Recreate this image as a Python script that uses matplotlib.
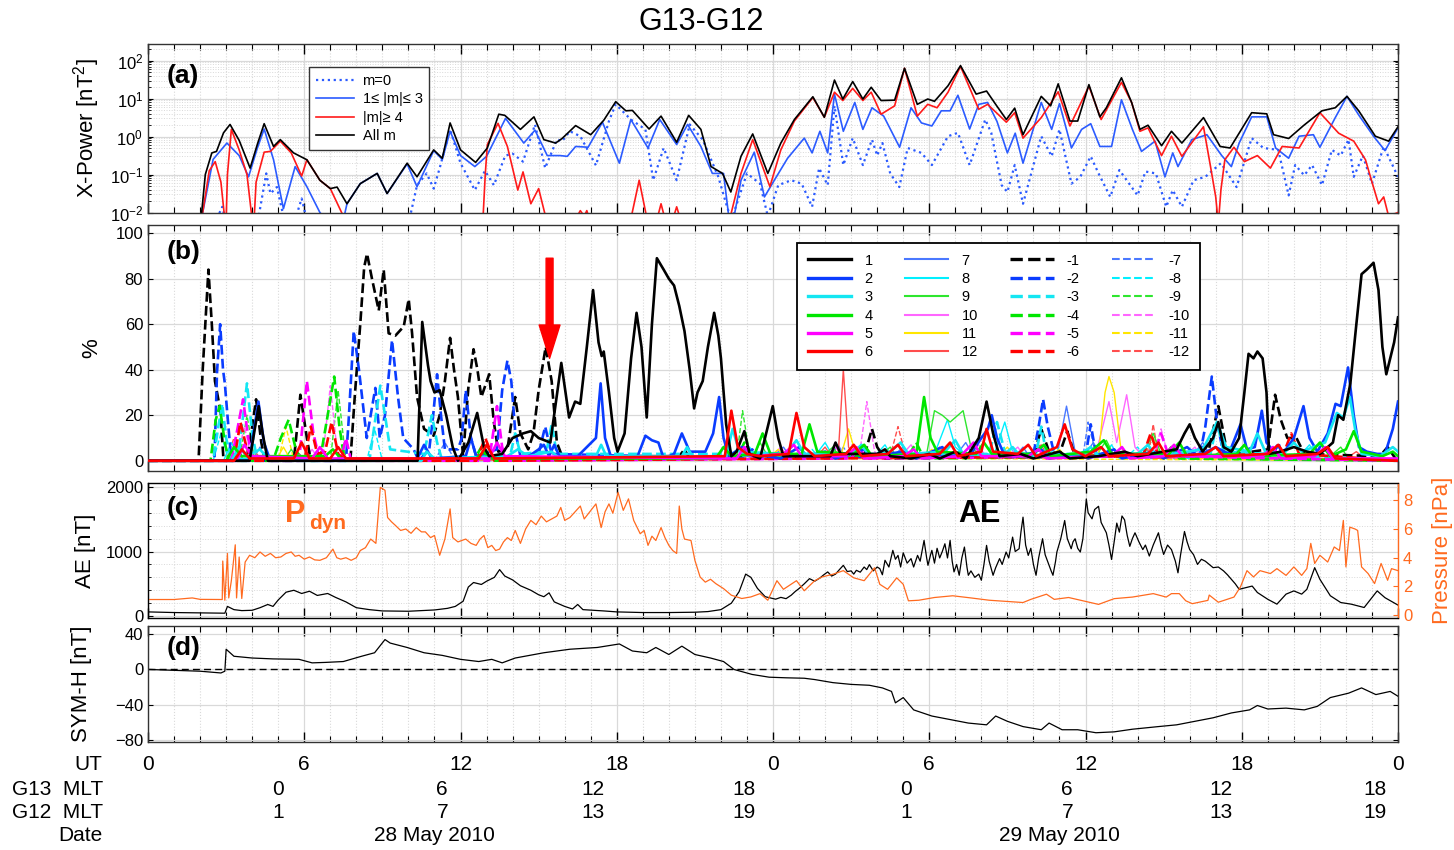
import numpy as np
import matplotlib
matplotlib.use("Agg")
import matplotlib.pyplot as plt
import matplotlib.transforms as mtransforms
from matplotlib.lines import Line2D
from matplotlib.ticker import MultipleLocator, LogLocator, NullFormatter

plt.rcParams['font.family'] = ['Liberation Sans', 'DejaVu Sans']
plt.rcParams['mathtext.fontset'] = 'custom'
plt.rcParams['mathtext.rm'] = 'Liberation Sans'
plt.rcParams['mathtext.it'] = 'Liberation Sans:italic'
plt.rcParams['mathtext.bf'] = 'Liberation Sans:bold'
NARROW = ['Liberation Sans Narrow', 'Liberation Sans', 'DejaVu Sans']

# ---------------- (a) cross power, (UT hour, log10 nT^2) ----------------
pow_all = [(2.0, -2.3), (2.06, -2.0), (2.2, -1.0), (2.45, -0.43), (2.63, -0.39), (2.9, 0.1), (3.15, 0.32),
           (3.5, -0.1), (3.92, -0.83), (4.2, -0.2), (4.46, 0.34), (4.82, -0.26), (5.08, -0.08), (5.59, -0.43),
           (6.1, -0.61), (6.6, -1.15), (7.0, -1.37), (7.26, -1.33), (7.64, -1.77), (8.15, -1.24), (8.8, -0.97),
           (9.18, -1.5), (9.95, -0.7), (10.33, -1.06), (10.97, -0.35), (11.3, -0.57), (11.6, 0.36), (12.0, -0.35),
           (12.58, -0.68), (13.03, -0.3), (13.47, 0.59), (13.7, 0.56), (14.3, 0.19), (14.82, 0.52), (15.2, -0.08),
           (15.65, -0.17), (15.9, -0.05), (16.42, 0.29), (17.0, 0.05), (17.5, 0.43), (17.96, 0.92), (18.35, 0.68),
           (18.6, 0.69), (19.24, 0.2), (19.7, 0.54), (20.3, -0.15), (20.76, 0.56), (21.23, 0.19), (21.62, -0.79),
           (22.06, -0.97), (22.38, -1.46), (22.77, -0.52), (23.22, 0.07), (23.8, -0.97), (24.3, -0.17),
           (24.82, 0.45), (25.53, 1.05), (25.97, 0.51), (26.36, 1.49), (26.68, 0.99), (27.06, 1.45), (27.45, 0.99),
           (27.77, 1.3), (28.15, 0.95), (28.67, 0.96), (29.05, 1.8), (29.54, 0.85), (29.94, 0.99), (30.2, 0.93),
           (30.72, 1.34), (31.2, 1.87), (31.8, 1.12), (32.2, 1.2), (32.6, 0.8), (32.96, 0.45), (33.28, 0.75),
           (33.6, 0.05), (34.3, 1.06), (34.66, 0.81), (34.95, 1.39), (35.4, 0.41), (35.7, 0.41), (36.13, 1.37),
           (36.55, 0.52), (36.8, 0.76), (37.38, 1.55), (37.77, 0.9), (38.09, 0.19), (38.4, 0.3), (38.92, -0.24),
           (39.3, 0.14), (39.7, -0.17), (40.53, 0.5), (41.17, -0.26), (41.55, -0.3), (42.38, 0.63), (42.96, 0.6),
           (43.22, 0.05), (43.8, -0.05), (44.37, 0.29), (45.08, 0.68), (45.59, 0.76), (46.04, 1.06), (46.49, 0.68),
           (47.13, 0.01), (47.64, -0.12), (48.0, 0.26)]
pow_low = [(2.0, -3.0), (2.1, -2.0), (2.5, -0.6), (3.03, -0.17), (3.5, -0.5), (3.86, -1.06), (4.2, -0.3),
           (4.46, 0.2), (4.82, -0.61), (5.2, -1.9), (5.65, -0.79), (6.1, -1.32), (6.6, -2.0), (7.0, -2.3),
           (7.5, -2.2), (7.64, -1.77), (8.15, -1.24), (8.8, -0.97), (9.18, -1.5), (9.95, -0.72), (10.33, -1.32),
           (10.97, -0.37), (11.3, -0.6), (11.6, 0.14), (12.0, -0.5), (12.55, -0.79), (13.0, -0.52), (13.73, 0.48),
           (14.43, -0.17), (14.86, 0.17), (15.33, -0.5), (15.82, -0.5), (16.1, -0.52), (16.42, -0.26),
           (16.9, -0.28), (17.45, 0.38), (18.1, -0.7), (18.54, 0.45), (19.2, -0.3), (19.65, 0.45), (20.3, -0.21),
           (20.72, 0.32), (21.23, -0.26), (21.67, -0.97), (22.1, -0.97), (22.3, -2.1), (22.45, -2.3),
           (22.77, -1.15), (23.28, -0.41), (23.67, -1.59), (24.05, -1.15), (24.56, -0.57), (25.2, -0.04),
           (25.5, -0.43), (25.8, 0.14), (26.1, -0.43), (26.36, 1.12), (26.7, 0.14), (27.14, 0.9), (27.45, 0.19),
           (27.8, 0.76), (28.25, 0.54), (28.86, -0.28), (29.3, 0.76), (29.7, 0.36), (30.1, 0.28), (30.46, 0.68),
           (30.8, 0.68), (31.1, 1.09), (31.55, 0.2), (31.9, 0.85), (32.24, 0.9), (32.6, 0.4), (33.0, -0.43),
           (33.3, 0.09), (33.6, -0.7), (34.3, 0.9), (34.7, 0.19), (35.0, 0.87), (35.46, -0.3), (35.85, 0.19),
           (36.2, 0.34), (36.55, -0.26), (37.0, -0.26), (37.38, 0.97), (37.8, 0.19), (38.15, -0.39),
           (38.67, -0.12), (39.05, -1.06), (39.35, -0.43), (39.55, -0.79), (40.08, -0.08), (40.66, 0.05),
           (41.23, -0.5), (41.6, -0.79), (41.9, -0.17), (42.38, 0.52), (42.96, 0.52), (43.3, -0.3), (43.8, -0.57),
           (44.2, 0.01), (44.75, 0.05), (45.0, -0.28), (45.59, 0.5), (46.04, 1.06), (46.5, 0.56), (47.06, 0.01),
           (47.5, -0.37), (48.0, 0.23)]
pow_high = [(2.0, -3.0), (2.1, -2.0), (2.35, -0.9), (2.58, -0.66), (2.8, -1.2), (2.95, -2.2), (3.0, -2.2),
            (3.05, -1.0), (3.2, 0.19), (3.5, -0.35), (3.8, -1.0), (4.05, -2.5), (4.15, -1.2), (4.46, -0.41),
            (4.7, -0.39), (5.08, -0.12), (5.5, -0.43), (5.9, -1.04), (6.1, -0.61), (6.6, -1.15), (7.0, -1.37),
            (7.64, -2.3), (8.0, -3.0), (12.8, -3.0), (12.95, -1.0), (13.03, -0.21), (13.44, 0.35), (13.8, -0.26),
            (14.2, -1.41), (14.4, -0.93), (14.7, -1.77), (15.0, -1.37), (15.3, -2.2), (15.5, -3.0), (16.4, -2.2),
            (16.6, -1.95), (16.75, -2.1), (16.85, -1.95), (17.0, -2.3), (18.5, -2.3), (18.86, -1.15), (19.2, -2.3),
            (19.5, -2.3), (19.7, -1.77), (19.9, -2.3), (20.1, -2.3), (20.3, -1.85), (20.5, -2.3), (22.2, -3.0),
            (22.4, -2.0), (22.77, -0.97), (23.22, -0.08), (23.88, -1.32), (24.3, -0.35), (24.82, 0.41),
            (25.53, 1.03), (25.97, 0.51), (26.36, 1.17), (26.68, 0.95), (27.06, 1.27), (27.45, 0.95), (27.77, 1.17),
            (28.15, 0.59), (28.67, 0.81), (29.05, 1.8), (29.54, 0.54), (29.94, 0.85), (30.3, 0.76), (30.72, 1.17),
            (31.2, 1.85), (31.9, 0.72), (32.24, 0.85), (32.96, 0.38), (33.28, 0.63), (33.6, -0.04), (34.3, 0.5),
            (34.95, 1.18), (35.4, 0.28), (36.13, 1.33), (36.6, 0.45), (37.38, 1.43), (37.77, 0.9), (38.09, 0.14),
            (38.4, 0.23), (38.92, -0.5), (39.3, 0.01), (39.7, -0.52), (40.53, 0.26), (40.8, -0.79), (41.0, -1.59),
            (41.1, -2.3), (41.2, -1.4), (41.35, -0.61), (41.7, -0.28), (42.1, -0.66), (42.6, -0.5), (43.1, -0.83),
            (43.55, -0.26), (44.2, -0.3), (45.0, 0.63), (45.72, 0.09), (46.3, -0.12), (46.75, -0.61), (47.0, -1.2),
            (47.25, -1.77), (47.45, -1.59), (47.64, -2.1), (48.0, -2.0)]
pow_m0 = [(2.55, -2.3), (2.85, -1.85), (3.0, -2.3), (4.2, -2.3), (4.54, -0.97), (4.7, -1.5), (4.95, -1.33),
          (5.2, -2.1), (5.6, -2.3), (5.9, -1.63), (6.1, -2.2), (10.0, -2.3), (10.33, -1.28), (10.7, -0.97),
          (10.97, -1.37), (11.2, -0.83), (11.6, 0.19), (12.0, -0.7), (12.55, -1.41), (12.94, -0.9), (13.28, -1.28),
          (13.72, -0.5), (14.0, -0.45), (14.4, -0.66), (14.86, 0.32), (15.25, -0.83), (15.7, -0.08), (15.9, -0.12),
          (16.2, 0.14), (16.6, 0.01), (17.2, -0.76), (17.7, 0.41), (17.96, 0.85), (18.54, 0.45), (19.1, 0.19),
          (19.4, -1.15), (19.8, -0.3), (20.3, -1.15), (20.8, 0.32), (21.3, -0.08), (21.9, -1.06), (22.2, -1.77),
          (22.4, -2.2), (23.0, -0.97), (23.5, -1.24), (23.8, -2.1), (24.2, -1.28), (24.7, -1.15), (25.1, -1.24),
          (25.5, -1.85), (25.77, -0.83), (26.1, -1.28), (26.36, 0.81), (26.7, -0.75), (27.06, -0.04),
          (27.45, -0.75), (27.8, -0.08), (28.0, -0.5), (28.2, -0.17), (28.5, -0.97), (28.85, -1.33), (29.17, -0.3),
          (29.7, -0.43), (30.1, -0.75), (30.72, 0.01), (31.1, 0.1), (31.55, -0.75), (32.15, 0.45), (32.38, 0.1),
          (32.78, -1.28), (33.0, -1.46), (33.28, -0.75), (33.6, -1.77), (34.3, 0.01), (34.7, -0.52), (35.0, 0.19),
          (35.46, -1.24), (35.8, -1.06), (36.2, -0.52), (36.5, -0.97), (36.95, -1.59), (37.3, -0.88), (38.0, -1.55),
          (38.3, -0.92), (38.7, -0.97), (39.1, -1.85), (39.35, -1.41), (39.7, -1.85), (40.15, -1.15), (40.6, -1.06),
          (41.2, -0.7), (41.8, -1.33), (42.38, -0.04), (42.83, -0.3), (43.4, -0.35), (43.8, -1.55), (44.05, -0.75),
          (44.4, -1.02), (44.7, -0.75), (45.08, -1.28), (45.46, -0.35), (45.8, -0.5), (46.1, -0.08), (46.3, -1.06),
          (46.65, -0.5), (47.0, -1.24), (47.45, -0.26), (48.0, -1.06)]

# ---------------- (b) mode percentages, (UT hour, %) ----------------
pct_p1 = [(0, 0), (3.9, 0), (4.1, 14), (4.25, 24), (4.4, 12), (4.6, 0), (10.35, 0), (10.53, 61), (10.75, 42),
          (10.85, 35), (11.0, 30), (11.2, 31), (11.45, 20), (11.7, 6), (11.9, 0), (12.3, 8), (12.64, 21),
          (12.9, 6), (13.1, 2), (13.6, 3), (14.0, 10), (14.4, 12), (14.7, 13), (15.0, 10), (15.45, 8), (15.87, 43),
          (16.17, 19), (16.4, 26), (16.6, 25), (16.85, 50), (17.09, 75), (17.3, 52), (17.42, 46), (17.5, 48),
          (17.7, 30), (17.9, 10), (18.03, 4), (18.3, 12), (18.55, 45), (18.76, 65), (18.95, 50), (19.15, 19),
          (19.35, 60), (19.54, 89), (19.8, 84), (20.0, 80), (20.2, 77), (20.4, 68), (20.6, 57), (20.8, 40),
          (20.97, 23), (21.1, 30), (21.3, 35), (21.5, 50), (21.74, 65), (21.9, 55), (22.0, 45), (22.2, 16),
          (22.4, 2), (22.6, 4), (22.9, 13), (23.1, 3), (23.5, 1), (23.8, 15), (23.99, 24), (24.2, 10), (24.4, 2),
          (26.2, 2), (26.4, 8), (26.6, 3), (28.0, 3), (28.3, 5), (28.5, 2), (29.3, 1), (30.0, 3), (30.4, 1),
          (31.0, 4), (31.4, 1), (31.9, 10), (32.2, 26), (32.45, 12), (32.7, 2), (33.5, 3), (34.0, 1), (35.0, 4),
          (35.4, 1), (36.5, 2), (37.5, 4), (38.0, 2), (39.5, 5), (39.8, 12), (40.0, 16), (40.2, 10), (40.5, 4),
          (40.9, 10), (41.1, 17), (41.3, 6), (41.6, 4), (41.9, 10), (42.1, 30), (42.26, 47), (42.45, 45),
          (42.6, 48), (42.8, 45), (42.95, 30), (43.05, 3), (43.5, 4), (44.0, 6), (44.5, 4), (45.0, 3), (45.5, 8),
          (45.7, 20), (45.9, 18), (46.17, 34), (46.4, 60), (46.6, 82), (46.8, 84), (47.06, 87), (47.25, 75),
          (47.4, 50), (47.55, 38), (47.7, 45), (47.85, 52), (48.0, 63)]
pct_p2 = [(0, 0), (3.9, 0), (4.05, 12), (4.24, 26), (4.45, 8), (4.7, 0), (10.3, 0), (10.6, 7), (10.9, 1),
          (12.2, 2), (12.4, 10), (12.6, 2), (14.5, 1), (15.0, 5), (15.2, 7), (15.4, 2), (15.6, 7), (15.8, 2),
          (16.5, 2), (17.2, 10), (17.38, 34), (17.55, 10), (17.8, 1), (18.8, 2), (19.1, 11), (19.35, 9),
          (19.6, 8), (19.8, 1), (20.2, 3), (20.5, 12), (20.8, 4), (21.4, 4), (21.7, 12), (21.93, 28), (22.1, 10),
          (22.3, 2), (22.8, 6), (23.2, 3), (24.3, 1), (25.0, 6), (25.3, 2), (26.0, 4), (26.4, 1), (27.5, 5),
          (27.8, 2), (29.0, 4), (29.5, 1), (30.5, 6), (30.8, 2), (31.6, 3), (32.0, 10), (32.25, 14), (32.4, 20),
          (32.6, 10), (32.9, 2), (33.6, 2), (34.3, 5), (34.6, 1), (35.7, 3), (36.1, 1), (37.1, 5), (37.4, 1),
          (38.6, 4), (39.0, 1), (39.9, 6), (40.3, 2), (41.0, 6), (41.5, 3), (41.95, 16), (42.2, 5), (42.5, 6),
          (42.77, 22), (42.95, 8), (43.3, 3), (43.7, 5), (44.0, 10), (44.37, 24), (44.6, 10), (44.9, 4),
          (45.3, 12), (45.6, 25), (45.8, 24), (46.08, 41), (46.3, 20), (46.5, 6), (46.8, 4), (47.2, 3), (47.5, 3),
          (47.8, 14), (48.0, 26)]
pct_p3 = [(0, 0), (3.2, 0), (3.5, 6), (3.8, 2), (4.3, 5), (4.6, 1), (10.5, 0), (10.7, 4), (11.0, 1), (13.8, 2),
          (14.2, 5), (14.6, 2), (15.5, 4), (15.8, 1), (17.2, 2), (17.4, 7), (17.6, 2), (20.5, 2), (20.7, 6),
          (20.9, 2), (22.2, 2), (22.45, 14), (22.7, 4), (24.5, 3), (24.9, 9), (25.2, 3), (27.0, 3), (27.4, 7),
          (27.7, 2), (28.5, 4), (28.9, 8), (29.2, 3), (30.6, 4), (31.0, 9), (31.3, 3), (32.8, 2), (33.2, 6),
          (33.5, 2), (35.8, 3), (36.2, 6), (36.5, 2), (38.0, 3), (38.4, 7), (38.7, 2), (40.5, 5), (41.05, 17),
          (41.4, 6), (42.3, 4), (42.6, 12), (42.9, 4), (43.6, 3), (44.0, 8), (44.3, 4), (45.2, 8), (45.65, 21),
          (45.9, 19), (46.15, 28), (46.35, 14), (46.6, 3), (47.3, 2), (47.8, 6), (48.0, 4)]
pct_p4 = [(0, 0), (3.0, 0), (3.3, 6), (3.6, 2), (6.8, 2), (7.1, 5), (7.4, 1), (12.6, 1), (12.9, 4), (13.2, 1),
          (21.8, 1), (22.1, 6), (22.4, 2), (23.3, 3), (23.6, 12), (23.9, 3), (25.1, 3), (25.4, 16), (25.7, 4),
          (27.1, 3), (27.5, 7), (27.8, 2), (29.5, 3), (29.8, 28), (30.05, 10), (30.3, 4), (31.8, 3), (32.1, 8),
          (32.4, 3), (34.0, 3), (34.4, 7), (34.7, 2), (36.2, 4), (36.7, 9), (37.0, 3), (39.2, 3), (39.6, 8),
          (39.9, 2), (41.8, 3), (42.1, 7), (42.4, 2), (44.6, 3), (45.0, 8), (45.4, 2), (46.0, 5), (46.3, 13),
          (46.6, 4), (47.4, 2), (47.8, 4), (48.0, 2)]
pct_p5 = [(0, 0), (3.4, 0), (3.7, 7), (4.0, 2), (6.3, 1), (6.6, 6), (6.9, 1), (13.1, 1), (13.4, 8), (13.7, 2),
          (22.6, 1), (22.9, 6), (23.2, 2), (24.4, 3), (24.8, 7), (25.1, 2), (26.8, 2), (27.2, 6), (27.5, 1),
          (29.0, 2), (29.4, 5), (29.7, 1), (31.2, 2), (31.7, 8), (32.0, 2), (33.8, 2), (34.2, 5), (34.5, 1),
          (37.0, 2), (37.4, 6), (37.7, 1), (39.0, 2), (39.4, 7), (39.7, 2), (42.8, 2), (43.2, 6), (43.5, 1),
          (44.8, 2), (45.2, 6), (45.5, 1), (48.0, 1)]
pct_p6 = [(0, 0), (3.3, 0), (3.6, 5), (3.9, 1), (5.6, 1), (5.9, 8), (6.2, 1), (7.0, 1), (7.3, 6), (7.6, 1),
          (12.7, 1), (13.0, 7), (13.3, 1), (22.15, 2), (22.4, 22), (22.65, 6), (23.0, 3), (23.5, 2), (24.6, 3),
          (24.9, 21), (25.2, 6), (25.6, 2), (26.8, 3), (27.1, 7), (27.4, 2), (28.4, 3), (28.8, 7), (29.1, 2),
          (30.4, 3), (30.8, 8), (31.1, 2), (32.0, 4), (32.2, 14), (32.45, 4), (33.4, 3), (33.8, 7), (34.1, 2),
          (34.9, 6), (35.2, 16), (35.5, 5), (36.0, 2), (36.6, 6), (36.9, 2), (38.4, 3), (38.8, 8), (39.1, 2),
          (40.6, 3), (41.0, 6), (41.3, 2), (43.0, 3), (43.4, 7), (43.7, 2), (44.9, 3), (45.3, 6), (45.6, 1),
          (48.0, 0)]
pct_p7 = [(0, 0), (3.5, 0), (3.8, 4), (4.1, 0), (21.9, 1), (22.2, 8), (22.5, 2), (24.0, 2), (24.4, 6), (24.7, 1),
          (26.2, 2), (26.5, 7), (26.8, 1), (28.6, 2), (29.0, 6), (29.3, 1), (31.0, 2), (31.4, 8), (31.7, 2),
          (33.3, 2), (33.6, 6), (33.9, 1), (34.9, 2), (35.27, 24), (35.6, 4), (36.0, 3), (36.3, 8), (36.6, 2),
          (37.8, 2), (38.2, 5), (38.5, 1), (40.1, 2), (40.5, 8), (40.8, 2), (43.0, 2), (43.4, 6), (43.7, 1),
          (48.0, 0)]
pct_p8 = [(0, 0), (2.9, 0), (3.2, 8), (3.5, 1), (22.8, 1), (23.1, 6), (23.4, 1), (25.6, 2), (26.0, 8), (26.3, 2),
          (27.9, 2), (28.3, 7), (28.6, 1), (30.2, 3), (30.7, 18), (31.0, 6), (31.3, 3), (32.5, 3), (32.9, 17),
          (33.2, 4), (34.5, 2), (34.9, 6), (35.2, 1), (36.7, 2), (37.0, 7), (37.3, 1), (39.1, 2), (39.5, 6),
          (39.8, 1), (41.6, 2), (42.0, 6), (42.3, 1), (44.2, 2), (44.6, 7), (44.9, 1), (48.0, 0)]
pct_p9 = [(0, 0), (5.2, 0), (5.5, 5), (5.8, 0), (23.2, 1), (23.5, 8), (23.8, 2), (25.9, 2), (26.3, 6), (26.6, 1),
          (28.1, 2), (28.5, 6), (28.8, 1), (29.9, 3), (30.2, 22), (30.5, 20), (30.8, 17), (31.1, 20), (31.3, 22),
          (31.6, 6), (32.0, 2), (33.8, 2), (34.2, 7), (34.5, 1), (36.4, 2), (36.8, 9), (37.1, 2), (38.2, 3),
          (38.6, 12), (38.9, 3), (40.9, 2), (41.3, 5), (41.6, 1), (45.4, 2), (45.8, 6), (46.1, 1), (48.0, 0)]
pct_p10 = [(0, 0), (6.0, 0), (6.3, 5), (6.6, 0), (23.9, 1), (24.3, 6), (24.6, 1), (26.0, 2), (26.4, 6), (26.7, 1),
           (28.9, 2), (29.3, 7), (29.6, 1), (31.5, 2), (31.9, 7), (32.2, 1), (33.0, 2), (33.4, 6), (33.7, 1),
           (36.4, 3), (36.9, 26), (37.2, 8), (37.58, 29), (37.9, 6), (38.2, 2), (39.8, 2), (40.2, 6), (40.5, 1),
           (42.7, 2), (43.1, 6), (43.4, 1), (48.0, 0)]
pct_p11 = [(0, 0), (4.9, 0), (5.2, 6), (5.5, 0), (23.8, 1), (24.2, 5), (24.5, 1), (26.6, 2), (26.9, 14),
           (27.2, 2), (29.7, 1), (30.1, 5), (30.4, 1), (32.6, 1), (33.0, 6), (33.3, 1), (34.6, 2), (35.0, 5),
           (35.3, 1), (36.5, 3), (36.75, 30), (36.9, 37), (37.1, 30), (37.35, 6), (37.7, 1), (39.4, 2), (39.8, 5),
           (40.1, 1), (44.0, 1), (44.4, 4), (44.7, 1), (48.0, 0)]
pct_p12 = [(0, 0), (3.8, 0), (4.1, 4), (4.4, 0), (25.6, 1), (26.0, 6), (26.3, 1), (26.5, 2), (26.7, 40),
           (26.9, 6), (27.2, 1), (30.0, 2), (30.4, 6), (30.7, 1), (33.9, 2), (34.3, 7), (34.6, 1), (37.9, 2),
           (38.3, 6), (38.6, 1), (41.2, 2), (41.6, 5), (41.9, 1), (46.0, 1), (46.4, 4), (46.7, 1), (48.0, 0)]
pct_n1 = [(0, 0), (1.94, 0), (2.1, 40), (2.32, 84), (2.45, 60), (2.57, 35), (2.78, 22), (2.9, 0), (3.8, 0),
          (4.0, 15), (4.15, 27), (4.35, 8), (4.5, 0), (5.6, 0), (5.85, 29), (6.1, 10), (6.25, 0), (7.77, 0),
          (7.95, 30), (8.15, 60), (8.3, 85), (8.41, 91), (8.6, 80), (8.86, 66), (9.05, 84), (9.24, 56), (9.5, 55),
          (9.82, 59), (10.01, 71), (10.14, 56), (10.33, 28), (10.6, 14), (10.97, 11), (11.2, 20), (11.4, 35),
          (11.6, 54), (11.75, 40), (11.9, 28), (12.1, 2), (12.3, 32), (12.5, 49), (12.65, 40), (12.8, 28),
          (13.1, 38), (13.28, 17), (13.45, 4), (13.8, 5), (14.1, 28), (14.3, 12), (14.6, 5), (14.8, 12), (15.0, 31),
          (15.27, 50), (15.5, 35), (15.7, 8), (15.9, 2), (20.4, 2), (20.6, 5), (20.8, 1), (22.7, 1), (23.0, 6),
          (23.3, 1), (27.5, 2), (27.8, 14), (28.0, 6), (28.3, 1), (34.0, 2), (34.3, 14), (34.6, 4), (35.0, 3),
          (35.3, 13), (35.6, 2), (40.7, 3), (41.1, 24), (41.4, 6), (41.8, 3), (43.0, 5), (43.28, 29), (43.5, 18),
          (43.75, 10), (44.1, 10), (44.4, 3), (47.3, 2), (47.6, 6), (47.9, 1), (48.0, 0)]
pct_n2 = [(0, 0), (2.55, 0), (2.65, 39), (2.77, 60), (2.88, 40), (2.95, 34), (3.05, 20), (3.2, 0), (7.6, 0),
          (7.7, 17), (7.9, 57), (8.1, 40), (8.4, 10), (8.55, 20), (8.73, 32), (8.9, 10), (9.1, 20), (9.37, 53),
          (9.6, 28), (9.8, 10), (10.2, 5), (10.4, 0), (10.8, 5), (10.95, 20), (11.1, 38), (11.25, 20), (11.4, 5),
          (11.9, 5), (12.05, 10), (12.2, 31), (12.4, 10), (12.6, 2), (13.4, 5), (13.6, 31), (13.8, 44),
          (13.95, 35), (14.1, 13), (14.3, 2), (15.0, 3), (15.25, 15), (15.5, 3), (22.9, 1), (23.2, 5), (23.5, 1),
          (34.0, 3), (34.2, 15), (34.37, 27), (34.55, 15), (34.8, 3), (36.0, 2), (36.2, 16), (36.4, 3), (40.4, 3),
          (40.6, 15), (40.85, 37), (41.05, 17), (41.3, 3), (43.2, 2), (43.4, 8), (43.6, 1), (48.0, 0)]
pct_n3 = [(0, 0), (2.5, 0), (2.7, 15), (2.85, 25), (3.0, 10), (3.2, 0), (3.5, 5), (3.8, 34), (4.0, 12), (4.2, 0),
          (8.5, 0), (8.75, 20), (8.92, 33), (9.1, 20), (9.3, 5), (10.6, 3), (10.9, 20), (11.1, 8), (11.3, 0),
          (13.9, 2), (14.1, 12), (14.3, 3), (15.3, 4), (15.5, 16), (15.7, 3), (32.3, 3), (32.6, 17), (32.9, 4),
          (34.1, 3), (34.3, 15), (34.5, 3), (40.8, 3), (41.05, 17), (41.3, 4), (48.0, 0)]
pct_n4 = [(0, 0), (2.4, 0), (2.6, 18), (2.75, 24), (2.95, 8), (3.1, 0), (4.8, 0), (5.1, 10), (5.4, 18), (5.7, 4),
          (6.0, 0), (6.6, 0), (6.9, 20), (7.15, 37), (7.35, 15), (7.55, 0), (12.5, 0), (12.8, 6), (13.1, 0),
          (22.6, 1), (22.9, 8), (23.1, 3), (29.2, 2), (29.5, 8), (29.8, 1), (39.0, 2), (39.3, 6), (39.6, 1),
          (48.0, 0)]
pct_n5 = [(0, 0), (3.2, 0), (3.5, 18), (3.65, 27), (3.85, 10), (4.0, 0), (5.8, 0), (6.1, 35), (6.35, 12),
          (6.6, 0), (7.4, 0), (7.6, 10), (7.8, 0), (13.1, 0), (13.4, 24), (13.6, 6), (13.8, 0), (27.0, 1),
          (27.3, 6), (27.6, 1), (38.6, 2), (38.9, 12), (39.2, 2), (48.0, 0)]
pct_n6 = [(0, 0), (3.3, 0), (3.55, 17), (3.8, 5), (4.0, 0), (6.0, 0), (6.25, 15), (6.5, 3), (6.8, 4), (7.05, 17),
          (7.3, 3), (7.6, 0), (12.6, 0), (12.95, 10), (13.3, 0), (38.2, 2), (38.5, 12), (38.8, 2), (43.6, 3),
          (43.9, 12), (44.2, 3), (48.0, 0)]
pct_n7 = [(0, 0), (4.0, 0), (4.3, 6), (4.6, 0), (11.0, 0), (11.4, 8), (11.8, 0), (26.4, 1), (26.7, 6), (27.0, 1),
          (35.9, 2), (36.1, 17), (36.4, 3), (48.0, 0)]
pct_n8 = [(0, 0), (2.5, 0), (2.8, 12), (3.1, 0), (8.4, 0), (8.7, 14), (9.0, 0), (25.1, 1), (25.5, 5), (25.8, 1),
          (37.6, 2), (38.0, 6), (38.3, 1), (48.0, 0)]
pct_n9 = [(0, 0), (3.5, 0), (3.8, 20), (4.1, 0), (7.0, 0), (7.3, 31), (7.6, 0), (22.6, 1), (22.83, 22),
          (23.1, 3), (38.2, 2), (38.6, 10), (38.9, 1), (48.0, 0)]
pct_n10 = [(0, 0), (3.4, 0), (3.7, 15), (4.0, 0), (6.7, 0), (7.0, 33), (7.3, 0), (27.3, 1), (27.6, 26),
           (27.9, 4), (28.2, 1), (38.6, 2), (38.9, 14), (39.2, 1), (48.0, 0)]
pct_n11 = [(0, 0), (5.0, 0), (5.3, 15), (5.6, 0), (30.2, 1), (30.5, 5), (30.8, 1), (48.0, 0)]
pct_n12 = [(0, 0), (3.0, 0), (3.3, 10), (3.6, 0), (28.5, 2), (28.8, 15), (29.1, 2), (38.4, 2), (38.6, 16),
           (38.8, 2), (48.0, 0)]

# ---------------- (c) AE [nT] and solar wind dynamic pressure [nPa] ----------------
ae_nt = [(0, 65), (1.0, 55), (2.0, 50), (2.95, 45), (3.05, 150), (3.3, 100), (3.6, 85), (4.0, 90), (4.3, 130),
         (4.6, 180), (4.8, 150), (5.0, 250), (5.3, 370), (5.6, 400), (5.9, 350), (6.2, 385), (6.5, 320), (6.9, 350),
         (7.2, 290), (7.6, 220), (8.0, 130), (8.5, 100), (9.0, 80), (10.0, 75), (10.5, 85), (11.0, 95),
         (11.5, 120), (11.8, 150), (12.1, 230), (12.3, 450), (12.5, 520), (12.8, 490), (13.0, 540), (13.3, 600),
         (13.5, 720), (13.7, 620), (14.0, 560), (14.3, 470), (14.7, 400), (15.0, 330), (15.2, 300), (15.4, 360),
         (15.6, 220), (16.0, 150), (16.3, 110), (16.5, 180), (16.7, 100), (17.5, 80), (18.0, 65), (19.0, 55),
         (20.0, 55), (21.0, 60), (21.5, 70), (22.0, 100), (22.4, 200), (22.7, 380), (22.95, 650), (23.15, 600),
         (23.4, 430), (23.7, 300), (24.1, 262), (24.3, 290), (24.5, 270), (24.7, 324), (24.85, 380), (25.0, 427),
         (25.2, 500), (25.4, 580), (25.6, 540), (25.8, 590), (25.95, 640), (26.1, 684), (26.25, 620), (26.4, 650),
         (26.55, 720), (26.7, 786), (26.85, 690), (27.0, 700), (27.1, 650), (27.2, 709), (27.35, 680),
         (27.5, 760), (27.6, 720), (27.7, 797), (27.85, 700), (28.0, 760), (28.1, 735), (28.2, 640), (28.3, 864),
         (28.45, 760), (28.6, 1018), (28.7, 880), (28.8, 940), (28.9, 760), (29.0, 980), (29.15, 820),
         (29.3, 890), (29.4, 760), (29.55, 940), (29.65, 850), (29.8, 1172), (29.9, 900), (29.95, 786),
         (30.05, 950), (30.1, 1018), (30.2, 820), (30.3, 1050), (30.4, 900), (30.5, 1000), (30.6, 1120),
         (30.7, 900), (30.8, 1172), (30.88, 850), (30.95, 684), (31.05, 800), (31.15, 632), (31.25, 900),
         (31.35, 1069), (31.45, 750), (31.5, 632), (31.6, 700), (31.75, 600), (31.9, 650), (32.0, 555),
         (32.1, 800), (32.2, 1095), (32.3, 850), (32.45, 632), (32.55, 750), (32.7, 890), (32.8, 800),
         (32.95, 992), (33.05, 900), (33.2, 1223), (33.3, 1000), (33.45, 1043), (33.52, 1300), (33.6, 1532),
         (33.7, 1100), (33.8, 940), (33.9, 1050), (34.0, 800), (34.1, 632), (34.2, 900), (34.35, 1198),
         (34.45, 950), (34.6, 786), (34.68, 700), (34.75, 632), (34.85, 850), (34.9, 992), (35.05, 1200),
         (35.2, 1480), (35.3, 1200), (35.45, 1043), (35.52, 1150), (35.6, 1198), (35.7, 1050), (35.8, 992),
         (35.9, 1200), (36.03, 1814), (36.1, 1600), (36.25, 1506), (36.35, 1650), (36.5, 1700), (36.6, 1450),
         (36.8, 1290), (36.9, 1100), (37.0, 877), (37.1, 1150), (37.2, 1440), (37.3, 1300), (37.4, 1550),
         (37.5, 1490), (37.6, 1250), (37.7, 1080), (37.8, 1200), (37.9, 1290), (38.05, 1150), (38.2, 1030),
         (38.3, 1100), (38.45, 930), (38.6, 1100), (38.8, 1290), (38.9, 1100), (39.0, 955), (39.15, 1100),
         (39.3, 1030), (39.45, 850), (39.55, 670), (39.65, 950), (39.8, 1310), (39.9, 1150), (40.0, 1030),
         (40.15, 950), (40.3, 800), (40.45, 880), (40.6, 850), (40.75, 800), (40.9, 750), (41.1, 760),
         (41.3, 700), (41.45, 640), (41.6, 570), (41.75, 500), (41.9, 415), (42.4, 465), (42.6, 365), (43.0, 260),
         (43.35, 185), (43.7, 340), (44.0, 390), (44.3, 340), (44.5, 415), (44.8, 750), (45.0, 570), (45.4, 315),
         (45.8, 210), (46.2, 185), (46.7, 133), (47.2, 390), (47.5, 285), (48.0, 170)]
pdyn_npa = [(0, 1.09), (1.0, 1.09), (1.7, 1.2), (2.0, 1.1), (2.85, 1.09), (2.87, 3.77), (2.95, 1.04), (3.05, 4.3),
            (3.1, 1.2), (3.2, 2.4), (3.35, 4.9), (3.4, 1.2), (3.5, 4.05), (3.6, 1.16), (3.73, 3.7), (3.9, 4.17),
            (4.1, 4.0), (4.3, 4.4), (4.5, 4.1), (4.7, 4.3), (4.9, 4.0), (5.1, 4.05), (5.3, 4.3), (5.5, 4.4),
            (5.65, 4.1), (5.8, 4.17), (6.0, 3.9), (6.2, 4.05), (6.4, 3.85), (6.6, 3.82), (6.85, 4.0), (7.1, 4.6),
            (7.25, 4.0), (7.4, 3.9), (7.6, 4.0), (7.8, 3.82), (8.0, 4.0), (8.15, 4.5), (8.35, 4.7), (8.55, 5.3),
            (8.75, 5.0), (8.92, 8.9), (9.1, 8.7), (9.2, 6.8), (9.35, 6.5), (9.5, 6.25), (9.7, 5.9), (9.9, 6.0),
            (10.1, 5.7), (10.3, 6.1), (10.5, 5.8), (10.65, 5.8), (10.85, 5.4), (11.0, 5.55), (11.2, 4.17),
            (11.4, 5.3), (11.6, 7.4), (11.7, 5.4), (11.9, 5.1), (12.2, 5.3), (12.4, 5.0), (12.6, 4.86),
            (12.75, 5.3), (12.9, 5.55), (13.05, 4.7), (13.2, 4.86), (13.35, 4.5), (13.5, 4.6), (13.65, 5.1),
            (13.8, 5.4), (13.95, 5.2), (14.1, 5.9), (14.3, 5.0), (14.5, 6.0), (14.7, 6.6), (14.9, 6.3), (15.1, 6.9),
            (15.3, 6.5), (15.5, 6.7), (15.7, 6.9), (15.85, 7.5), (16.0, 6.6), (16.2, 6.8), (16.4, 7.2), (16.6, 7.6),
            (16.75, 6.7), (16.9, 7.05), (17.05, 7.4), (17.2, 7.75), (17.4, 6.1), (17.55, 7.2), (17.7, 7.75),
            (17.85, 7.1), (18.05, 8.55), (18.25, 7.3), (18.45, 8.1), (18.65, 6.6), (18.9, 5.67), (19.05, 5.9),
            (19.2, 4.86), (19.35, 5.5), (19.5, 5.2), (19.7, 6.1), (19.85, 5.4), (20.0, 4.86), (20.15, 4.5),
            (20.3, 4.3), (20.4, 7.6), (20.5, 6.0), (20.6, 5.3), (20.85, 5.2), (21.0, 3.82), (21.2, 2.66),
            (21.4, 2.3), (21.6, 2.5), (21.8, 2.2), (22.1, 1.85), (22.4, 1.39), (22.8, 1.16), (23.15, 1.27),
            (23.5, 1.5), (23.8, 1.04), (24.15, 2.4), (24.4, 1.8), (24.9, 2.4), (25.2, 1.7), (25.6, 2.4),
            (25.9, 2.67), (26.3, 2.85), (26.7, 3.1), (27.1, 2.6), (27.5, 2.4), (27.9, 3.3), (28.1, 2.15),
            (28.4, 1.8), (28.75, 2.6), (29.0, 2.15), (29.2, 1.0), (29.6, 1.04), (30.2, 1.23), (30.9, 1.35),
            (31.6, 1.2), (32.3, 1.04), (33.0, 0.95), (33.6, 0.88), (33.9, 1.1), (34.5, 1.46), (34.8, 1.1),
            (35.35, 1.23), (35.9, 1.0), (36.5, 0.75), (37.1, 1.15), (37.8, 1.26), (38.6, 1.5), (39.1, 1.26),
            (39.3, 1.5), (39.6, 1.5), (39.85, 1.0), (40.1, 0.8), (40.7, 1.03), (40.75, 1.4), (41.1, 0.9),
            (41.7, 1.26), (41.95, 1.97), (42.2, 3.1), (42.45, 2.66), (42.7, 3.1), (43.1, 2.9), (43.35, 3.24),
            (43.7, 2.77), (44.0, 3.36), (44.3, 2.77), (44.5, 3.24), (44.65, 5.0), (44.8, 3.6), (45.0, 4.17),
            (45.3, 3.7), (45.55, 4.75), (45.75, 4.5), (45.9, 6.6), (46.0, 3.36), (46.15, 6.13), (46.35, 6.0),
            (46.45, 5.9), (46.6, 3.36), (46.85, 2.9), (47.1, 2.2), (47.35, 3.6), (47.6, 2.43), (47.75, 3.24),
            (48.0, 3.1)]

# ---------------- (d) SYM-H [nT] ----------------
symh_nt = [(0, 0), (1.0, -1), (2.0, -2), (2.8, -4), (2.95, -2), (3.0, 23), (3.3, 15), (4.0, 13), (4.8, 12),
           (5.8, 11.5), (6.3, 7.5), (6.8, 8), (7.5, 9), (8.2, 15), (8.7, 19), (9.1, 34), (9.3, 30), (9.95, 25),
           (10.6, 19), (11.3, 16), (12.0, 11.5), (12.7, 9), (13.2, 11.5), (13.6, 7.5), (14.1, 13), (15.2, 19),
           (16.2, 23), (17.25, 25), (18.1, 29), (18.6, 21), (19.15, 19), (19.5, 25), (20.0, 17), (20.5, 26.5),
           (21.0, 17), (21.6, 13), (22.1, 9), (22.5, 0), (23.2, -5.7), (23.85, -8.8), (24.5, -9.5), (25.2, -10),
           (25.6, -11.5), (26.3, -15), (27.0, -17), (27.7, -18), (28.2, -21), (28.55, -25), (28.7, -38),
           (29.0, -32), (29.4, -46), (30.1, -53), (30.8, -57), (31.5, -61), (32.2, -63), (32.55, -53), (33.0, -59),
           (33.6, -65), (34.3, -68.6), (34.6, -61), (35.1, -68.6), (35.7, -68.6), (36.4, -72), (37.1, -71),
           (37.8, -68), (38.8, -65), (39.5, -63), (40.2, -59), (40.9, -55), (41.6, -49.5), (42.3, -46),
           (42.6, -41), (43.0, -45), (43.7, -44), (44.4, -46), (44.9, -42), (45.4, -32), (46.1, -27), (46.6, -21),
           (47.15, -28.6), (47.7, -25), (48.0, -30.5)]

# ---------------- time axis labelling ----------------
ut_hours = [0, 6, 12, 18, 24, 30, 36, 42, 48]
ut_labels = ['0', '6', '12', '18', '0', '6', '12', '18', '0']
mlt_hours = [5.0, 11.3, 17.1, 22.9, 29.1, 35.3, 41.2, 47.1]
g13_mlt = ['0', '6', '12', '18', '0', '6', '12', '18']
g12_mlt = ['1', '7', '13', '19', '1', '7', '13', '19']
date_hours = [11.0, 35.0]
date_labels = ['28 May 2010', '29 May 2010']

BLUE = '#2b5bff'
RED = '#ff1a1a'
ORANGE = '#ff6a1f'
GRID = '#d9d9d9'


def xy(pairs):
    arr = np.array(pairs, dtype=float)
    return arr[:, 0], arr[:, 1]


def style_time_axis(ax):
    ax.set_xlim(0, 48)
    ax.xaxis.set_major_locator(MultipleLocator(6))
    ax.xaxis.set_minor_locator(MultipleLocator(1))
    ax.tick_params(axis='x', which='both', direction='in', top=True, labelbottom=False)
    ax.tick_params(axis='x', which='major', length=7, width=1.0)
    ax.tick_params(axis='x', which='minor', length=4, width=0.8)
    ax.grid(True, axis='x', which='major', color=GRID, lw=0.9)
    ax.grid(True, axis='x', which='minor', color=GRID, lw=0.8, ls=':')
    ax.set_axisbelow(True)
    for sp in ax.spines.values():
        sp.set_linewidth(1.0)
        sp.set_color('#333333')


def narrow_ticks(ax, size=12):
    for lab in ax.get_yticklabels():
        lab.set_family(NARROW)
        lab.set_fontsize(size)


fig = plt.figure(figsize=(14.54, 8.5), dpi=100)
L, W = 0.1018, 0.8597
ax_a = fig.add_axes([L, 0.750, W, 0.1982])
ax_b = fig.add_axes([L, 0.4459, W, 0.2894])
ax_c = fig.add_axes([L, 0.2729, W, 0.1588])
ax_d = fig.add_axes([L, 0.1271, W, 0.1365])

fig.text(0.482, 0.974, 'G13-G12', ha='center', va='center', fontsize=22)

# (a) X-power
for pairs, col, ls, lw, lab in [(pow_m0, BLUE, ':', 1.6, 'm=0'),
                                (pow_low, BLUE, '-', 1.2, '1\u2264 |m|\u2264 3'),
                                (pow_high, RED, '-', 1.2, '|m|\u2265 4'),
                                (pow_all, 'black', '-', 1.2, 'All m')]:
    t, lp = xy(pairs)
    ax_a.plot(t, 10.0 ** lp, color=col, ls=ls, lw=lw, label=lab, solid_joinstyle='round')
ax_a.set_yscale('log')
ax_a.set_ylim(1e-2, 275)
ax_a.yaxis.set_major_locator(LogLocator(base=10, numticks=10))
ax_a.yaxis.set_minor_locator(LogLocator(base=10, subs=np.arange(2, 10), numticks=10))
ax_a.yaxis.set_minor_formatter(NullFormatter())
ax_a.tick_params(axis='y', which='both', direction='in', right=True, labelsize=11)
ax_a.grid(True, axis='y', which='major', color=GRID, lw=0.9)
ax_a.grid(True, axis='y', which='minor', color=GRID, lw=0.7, ls=':')
style_time_axis(ax_a)
ax_a.set_ylabel('X-Power [nT$^2$]', fontsize=16, family=NARROW)
ax_a.yaxis.set_label_coords(-0.037, 0.5)
ax_a.text(0.015, 0.81, '(a)', transform=ax_a.transAxes, fontsize=19, fontweight='bold', va='center')
leg_a = ax_a.legend(loc='upper left', bbox_to_anchor=(0.1232, 0.905), fontsize=10.5, handlelength=2.6,
                    handletextpad=0.6, labelspacing=0.3, borderpad=0.45, fancybox=False, edgecolor='#333333',
                    framealpha=1)
leg_a.get_frame().set_linewidth(1.0)

# (b) percentage of power per azimuthal mode
pos_series = [(pct_p1, 'black'), (pct_p2, '#0a3cff'), (pct_p3, '#14e6f2'), (pct_p4, '#00e600'),
              (pct_p5, '#ff00ff'), (pct_p6, '#ff0000'), (pct_p7, '#4a78ff'), (pct_p8, '#00f0ff'),
              (pct_p9, '#2ee62e'), (pct_p10, '#ff66ff'), (pct_p11, '#ffe600'), (pct_p12, '#ff4d4d')]
neg_series = [(pct_n1, 'black'), (pct_n2, '#0a3cff'), (pct_n3, '#14e6f2'), (pct_n4, '#00e600'),
              (pct_n5, '#ff00ff'), (pct_n6, '#ff0000'), (pct_n7, '#4a78ff'), (pct_n8, '#00f0ff'),
              (pct_n9, '#2ee62e'), (pct_n10, '#ff66ff'), (pct_n11, '#ffe600'), (pct_n12, '#ff4d4d')]
handles, labels = [], []
for sign, series, ls in [(1, pos_series, '-'), (-1, neg_series, '--')]:
    for i, (pairs, col) in enumerate(series):
        m = i + 1
        lw = 1.9 if m <= 6 else 1.0
        z = 2.0 + (0.5 if m <= 6 else 0.0) + (0.3 if sign > 0 else 0.0)
        if sign > 0 and m == 6:
            z = 4.0
        if sign > 0 and m == 1:
            z = 3.5
        t, v = xy(pairs)
        ax_b.plot(t, v, color=col, ls=ls, lw=lw, zorder=z)
        handles.append(Line2D([], [], color=col, ls=ls, lw=lw + 0.5))
        labels.append(str(sign * m))
ax_b.set_ylim(-4.5, 103.6)
ax_b.yaxis.set_major_locator(MultipleLocator(20))
ax_b.tick_params(axis='y', which='both', direction='in', right=True)
ax_b.grid(True, axis='y', which='major', color=GRID, lw=0.9)
style_time_axis(ax_b)
ax_b.set_ylabel('%', fontsize=16, family=NARROW)
ax_b.yaxis.set_label_coords(-0.037, 0.5)
ax_b.text(0.015, 0.89, '(b)', transform=ax_b.transAxes, fontsize=19, fontweight='bold', va='center')
leg_b = ax_b.legend(handles, labels, ncol=4, loc='upper left', bbox_to_anchor=(0.5136, 0.955), fontsize=10.5,
                    handlelength=3.0, handletextpad=0.9, columnspacing=2.2, labelspacing=0.3, borderpad=0.7,
                    fancybox=False, edgecolor='black', framealpha=1)
leg_b.get_frame().set_linewidth(1.3)
leg_b.set_zorder(10)
ax_b.annotate('', xy=(15.42, 45), xytext=(15.42, 89), zorder=12,
              arrowprops=dict(facecolor='red', edgecolor='red', width=5, headwidth=15, headlength=24, shrink=0))

# (c) AE with dynamic pressure on the right axis
ax_p = ax_c.twinx()
t, v = xy(ae_nt)
ax_c.plot(t, v, color='black', lw=0.9, zorder=3)
t, v = xy(pdyn_npa)
ax_p.plot(t, v, color=ORANGE, lw=0.9)
ax_c.set_ylim(-30, 2060)
ax_c.set_yticks([0, 1000, 2000])
ax_c.yaxis.set_minor_locator(MultipleLocator(200))
ax_c.tick_params(axis='y', which='both', direction='in', right=False)
ax_c.grid(True, axis='y', which='major', color=GRID, lw=0.9)
ax_c.grid(True, axis='y', which='minor', color=GRID, lw=0.7, ls=':')
style_time_axis(ax_c)
ax_c.spines['right'].set_visible(False)
ax_p.set_ylim(-0.2, 9.2)
ax_p.set_yticks([0, 2, 4, 6, 8])
ax_p.tick_params(axis='y', direction='in', colors=ORANGE, labelsize=12)
ax_p.spines['right'].set_color(ORANGE)
ax_p.spines['right'].set_linewidth(1.0)
ax_p.set_ylabel('Pressure [nPa]', color=ORANGE, fontsize=16, family=NARROW)
ax_p.yaxis.set_label_coords(1.027, 0.5)
ax_c.set_ylabel('AE [nT]', fontsize=16, family=NARROW)
ax_c.yaxis.set_label_coords(-0.042, 0.5)
ax_c.text(0.015, 0.815, '(c)', transform=ax_c.transAxes, fontsize=19, fontweight='bold', va='center')
ax_c.text(0.1096, 0.77, 'P', transform=ax_c.transAxes, fontsize=22, fontweight='bold', color=ORANGE,
          va='center')
ax_c.text(0.1286, 0.70, 'dyn', transform=ax_c.transAxes, fontsize=15, fontweight='bold', color=ORANGE,
          va='center')
ax_c.text(0.648, 0.77, 'AE', transform=ax_c.transAxes, fontsize=22, fontweight='bold', color='black',
          va='center')

# (d) SYM-H
t, v = xy(symh_nt)
ax_d.plot(t, v, color='black', lw=0.9)
ax_d.axhline(0, color='black', ls='--', lw=1.0, dashes=(5, 3))
ax_d.set_ylim(-82.5, 49.5)
ax_d.set_yticks([-80, -40, 0, 40])
ax_d.tick_params(axis='y', which='both', direction='in', right=True)
ax_d.grid(True, axis='y', which='major', color=GRID, lw=0.9)
style_time_axis(ax_d)
ax_d.set_ylabel('SYM-H [nT]', fontsize=16, family=NARROW)
ax_d.yaxis.set_label_coords(-0.045, 0.5)
ax_d.text(0.015, 0.81, '(d)', transform=ax_d.transAxes, fontsize=19, fontweight='bold', va='center')

for ax in (ax_a, ax_b, ax_c, ax_d, ax_p):
    narrow_ticks(ax, 12)

# time rows under the bottom panel
row = mtransforms.blended_transform_factory(ax_d.transData, fig.transFigure)
ROW_FONT = dict(family=NARROW, fontsize=15, va='center', ha='center')
for h, s in zip(ut_hours, ut_labels):
    fig.text(h, 0.100, s, transform=row, **ROW_FONT)
for h, a, b in zip(mlt_hours, g13_mlt, g12_mlt):
    fig.text(h, 0.0706, a, transform=row, **ROW_FONT)
    fig.text(h, 0.0447, b, transform=row, **ROW_FONT)
for h, s in zip(date_hours, date_labels):
    fig.text(h, 0.0165, s, transform=row, **ROW_FONT)
fig.text(0.0702, 0.100, 'UT', family=NARROW, fontsize=15, va='center', ha='right')
fig.text(0.0083, 0.0706, 'G13  MLT', family=NARROW, fontsize=15, va='center', ha='left')
fig.text(0.0083, 0.0447, 'G12  MLT', family=NARROW, fontsize=15, va='center', ha='left')
fig.text(0.0702, 0.0165, 'Date', family=NARROW, fontsize=15, va='center', ha='right')

fig.savefig('out.png', dpi=100)
